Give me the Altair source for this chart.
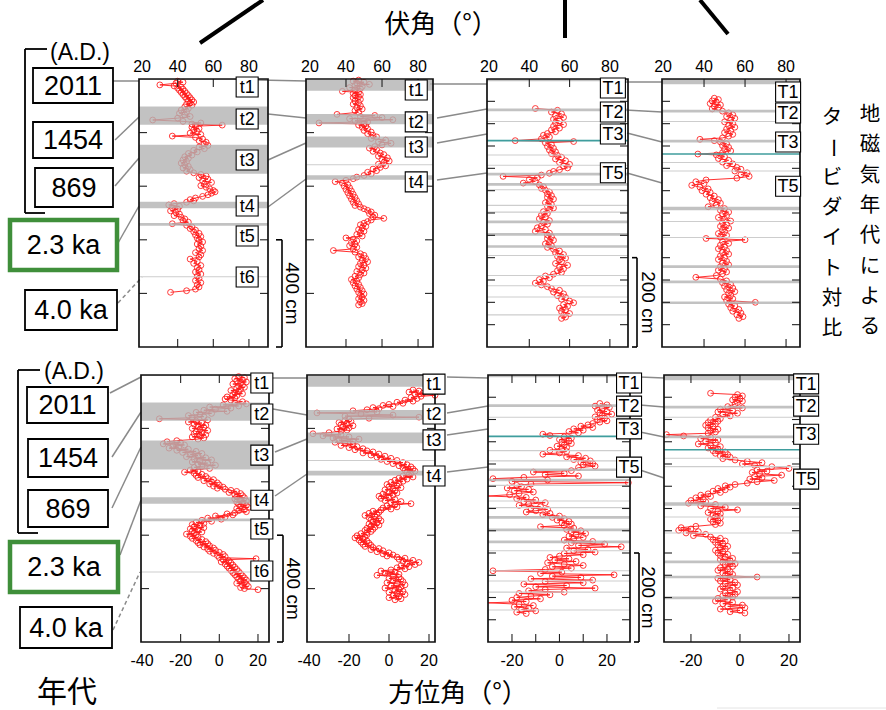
import altair as alt
import pandas as pd

FONT = "Liberation Sans"
JP = "Noto Sans CJK JP"
RED = "#ff1a1a"

# ---------------- measured series: (depth cm, degrees) ----------------
A_INC = [(8,40),(12,43),(16,39),(22,30),(26,38),(30,42),(34,40),(38,43),(42,41),(46,44),(50,42),(54,45),(58,43),(62,46),(66,44),(70,47),(74,45),(78,48),(82,46),(86,49),(90,47),(94,45),(98,48),
 (104,44),(110,46),(116,42),(122,45),(128,41),(134,44),(140,47),(146,40),(153,26),(158,43),(164,53),(168,48),
 (172,65),(176,50),(180,48),(185,52),(190,49),(196,51),(202,47),(207,53),(213,37),(218,50),(224,54),(230,52),(236,56),(242,55),
 (248,57),(254,52),(260,55),(266,49),(272,51),(278,46),(284,48),(290,44),(296,46),(302,43),(308,45),(314,42),(320,44),(326,46),(332,43),(338,47),(344,45),(350,49),
 (356,53),(362,56),(368,52),(374,57),(380,54),(386,59),(392,55),(398,53),(404,56),(410,58),(416,60),(421,61),(426,59),(432,57),(438,54),(444,50),(450,47),(455,49),
 (460,45),(465,38),(470,35),(475,41),(480,37),(486,40),(492,36),(498,39),(504,41),(510,38),(516,42),(522,44),(528,43),(534,46),
 (540,37),(546,45),(552,48),(558,47),(564,50),(570,49),(576,52),(582,50),(588,53),(594,51),(600,52),(608,54),(616,51),(624,53),(632,52),(640,54),(648,50),(656,53),(664,52),(672,47),(680,51),(688,49),(696,53),(704,51),(712,52),(720,50),(728,53),(736,51),(744,52),(752,50),(760,53),(768,51),(776,52),(784,50),(790,45),(796,36)]

B_INC = [(4,47),(8,44),(12,50),(16,46),(20,53),(24,45),(28,49),(32,42),(36,48),(40,45),
 (46,38),(50,47),(54,44),(58,48),(62,45),(66,47),(70,44),(76,48),(82,45),(88,47),(94,44),(100,48),(106,46),(112,49),(118,45),(124,47),
 (132,35),(136,56),(140,48),(144,60),(148,42),(152,66),(156,45),(160,52),(164,25),(168,50),
 (172,47),(176,51),(180,49),(186,52),(192,50),(198,54),(204,52),(210,55),
 (216,57),(222,54),(228,62),(234,58),(240,65),(246,60),(252,56),
 (258,53),(264,57),(270,55),(276,59),(282,61),(288,58),(294,63),(300,60),(306,64),(312,61),(318,58),(324,62),(330,59),(336,55),(342,57),(348,52),(354,54),
 (360,50),(366,46),(372,44),(378,40),(383,34),(388,38),(394,41),(400,39),(406,42),(412,40),(418,43),(424,41),(430,44),(436,42),(442,45),(448,43),(454,46),(460,44),(466,47),(472,45),(478,48),(484,50),(490,52),(496,54),(502,53),(508,56),(514,55),(520,61),(526,54),(532,52),
 (538,50),(544,48),(550,51),(556,49),(562,47),(568,50),(574,48),(580,46),(586,49),(593,40),(598,44),(604,46),(610,43),(616,45),(622,42),(628,46),(634,44),(640,33),(646,45),
 (652,48),(658,50),(664,47),(670,51),(676,49),(682,52),(688,48),(694,50),(700,47),(706,51),(712,49),(718,46),(724,50),(730,48),
 (736,45),(742,47),(748,43),(754,46),(760,44),(766,47),(772,45),(778,48),(784,46),(790,49),(796,47),(802,50),(808,48),(814,49),(820,47),(826,50),(832,48),(838,49),(843,47)]

C_INC = [(66,43),(70,54),(74,51),(78,56),(82,53),(86,57),(90,52),(94,55),(98,53),(102,57),(106,52),(110,55),(114,51),(118,53),(122,49),(126,47),(130,50),(134,46),(138,33),(140,62),(143,48),(147,51),(151,49),(155,52),(159,50),(163,53),(167,51),(171,54),(175,56),(179,53),(183,58),(187,55),(191,60),(195,57),(199,59),(203,55),(207,52),(211,50),(215,46),
 (218,27),(221,44),(225,40),(229,43),(233,37),(237,45),(241,47),(245,46),(249,48),(253,50),(257,49),(261,51),(265,49),(269,52),(273,50),(277,48),(281,51),(285,49),(289,52),(293,50),(297,47),(301,49),(305,46),(309,48),(313,45),(317,50),(321,47),(325,49),(329,46),(333,44),(337,48),(341,43),(345,50),(349,49),(353,51),(357,49),(361,52),(365,50),(369,48),(373,51),(377,49),(381,52),(385,55),(389,53),(393,57),(397,54),(401,58),(405,55),(409,56),(413,53),(417,59),(421,55),(425,57),(429,54),(433,56),(437,52),(441,48),(445,50),(449,45),(453,47),(457,43),(461,46),(465,49),(469,51),(473,55),(477,52),(481,57),(485,54),(489,58),(493,56),(497,60),(501,62),(505,57),(509,59),(513,55),(517,58),(521,56),(525,60),(529,57),(533,58),(536,56)]

D_INC = [(43,45),(46,47),(49,44),(52,46),(55,43),(58,48),(61,45),(64,47),(67,44),(72,49),(76,52),(80,54),(84,51),(88,55),(92,53),(96,50),(100,54),(104,52),(108,55),(112,51),(116,53),(120,50),(124,54),(128,52),(132,49),(135,38),(138,45),(141,48),(145,51),(149,49),(153,52),(157,50),(161,53),(165,49),(168,37),(170,46),(174,50),(178,47),(182,52),(186,49),(190,54),(194,51),(198,56),(202,58),(206,55),(210,61),(214,58),(218,62),(222,56),
 (226,41),(230,36),(234,40),(238,34),(242,38),(246,42),(250,39),(254,43),(258,41),(262,45),(266,43),(270,47),(274,44),(278,48),(282,46),
 (286,42),(290,50),(294,48),(298,52),(302,49),(306,51),(310,47),(314,50),(318,53),(322,49),(326,51),(330,48),(334,52),(338,49),(342,50),(346,47),(350,51),(354,48),(357,41),(360,60),(364,49),(368,52),(372,48),(376,50),(380,47),(384,51),(388,49),(392,52),(396,48),(400,50),(404,47),(408,51),(412,49),(416,52),(420,48),(424,50),(428,47),(432,51),(436,49),(440,46),(444,36),(448,48),(452,51),(456,49),(460,53),(464,50),(468,54),(472,51),(476,55),(480,52),(484,53),(488,50),(492,54),(496,51),(500,65),(504,52),(508,55),(512,53),(516,57),(520,54),(524,58),(528,56),(532,59),(536,57)]

A_DEC = [(6,10),(10,13),(14,8),(18,12),(22,9),(26,14),(30,11),(34,7),(38,12),(42,10),(46,13),(50,9),(54,11),(58,6),(62,10),(66,8),(70,12),(74,7),(78,9),(82,4),(86,8),(90,3),(94,6),
 (100,12),(104,8),(108,14),(112,2),(116,10),(120,-5),(124,6),(128,-2),(132,-8),(136,4),(140,-12),(144,-4),(148,-10),(152,-16),(156,-8),(160,-14),(164,-31),(168,-6),
 (172,-12),(176,-16),(180,-9),(184,-13),(188,-7),(192,-11),(196,-8),(200,-14),(204,-10),(208,-6),(212,-12),(216,-9),(220,-13),(224,-7),(228,-10),(232,-14),(236,-8),(240,-11),
 (246,-22),(250,-27),(254,-20),(258,-29),(262,-18),(266,-24),(270,-21),(274,-26),(278,-16),(282,-22),(286,-12),(290,-19),(294,-9),(298,-15),(302,-11),(306,-17),(310,-7),(314,-13),(318,-4),(322,-10),(326,-14),(330,-6),(334,-11),(338,-2),(342,-9),(346,-13),(350,-5),
 (356,-15),(360,-11),(364,-18),(368,-13),(372,-9),(376,-12),(380,-7),(384,-11),(388,-6),(392,-3),(396,-8),(400,-4),(404,-1),(408,-5),(412,0),(416,-3),(420,2),(424,-1),(428,3),
 (432,6),(436,9),(440,5),(444,11),(448,8),(452,12),(456,9),(460,13),(464,8),(468,11),(472,14),(476,9),(480,12),
 (484,10),(488,14),(492,11),(496,15),(500,9),(504,13),(508,10),(512,14),(516,8),
 (520,4),(524,7),(528,-2),(532,3),(536,-6),(540,1),(544,-9),(548,-4),(552,-12),(556,-8),
 (560,-14),(564,-10),(568,-13),(572,-8),(576,-15),(580,-11),(584,-14),(588,-9),(592,-13),(596,-17),(600,-12),(604,-15),
 (608,-11),(612,-14),(616,-9),(620,-12),(624,-7),(628,-11),(632,-6),(636,-10),(640,-5),(644,-8),(648,-3),(652,-6),(656,-2),(660,-5),(664,0),(668,-3),(672,2),(676,-1),
 (680,3),(684,0),(688,19),(692,2),(696,5),(700,1),(704,6),(708,3),(712,7),(716,4),(720,8),(724,5),(728,9),
 (732,6),(736,10),(740,7),(744,11),(748,8),(752,12),(756,9),(760,13),(764,10),(768,14),(772,11),(776,13),(780,9),(784,14),(788,12),(792,15),(796,11),(800,13),(804,20)]

B_DEC = [(56,12),(60,15),(64,10),(68,17),(72,13),(76,23),(80,16),(84,11),(88,14),
 (94,8),(98,12),(102,4),(106,7),(110,0),(114,-3),(118,2),(122,-8),(126,-5),(130,-11),
 (134,-18),(138,-6),(142,-36),(146,-14),(150,2),(154,-22),(158,15),(162,-10),(166,-20),
 (170,-22),(174,-19),(178,-25),(182,-21),(186,-24),(190,-18),(194,-23),(198,-20),(202,-26),(206,-21),(210,-24),
 (216,-30),(220,-38),(224,-24),(228,-33),(232,-20),(236,-28),(240,-15),(244,-25),(248,-18),(252,-27),
 (256,-22),(260,-18),(264,-24),(268,-16),(272,-20),(276,-13),(280,-17),(284,-11),
 (288,-8),(292,-13),(296,-5),(300,-9),(304,-2),(308,-6),(312,1),(316,-4),(320,4),(324,-1),(328,7),(332,2),(336,9),(340,5),
 (344,11),(348,7),(352,12),(356,8),(360,13),(364,9),(368,11),
 (374,10),(378,7),(382,12),(386,5),(390,9),(394,3),(398,7),(402,1),(406,5),(410,-1),(414,4),(418,0),(422,6),(426,2),(430,-2),(434,3),(438,0),(442,4),
 (446,-3),(450,2),(454,-5),(458,0),(462,-4),(466,3),(470,-2),(474,6),(478,1),(482,11),(486,3),(490,-1),(494,4),(498,-3),(502,1),(506,-4),
 (510,-8),(514,-5),(518,-10),(522,-6),(526,-12),(530,-7),(534,-10),(538,-5),(542,-9),(546,-4),(550,-8),(554,-6),(558,-10),(562,-5),(566,-9),(570,-7),(574,-11),(578,-8),(582,-12),(586,-9),(590,-11),
 (594,-14),(598,-11),(602,-16),(606,-12),(610,-17),(614,-13),(618,-15),(622,-11),(626,-14),(630,-10),(634,-13),(638,-9),(642,-12),
 (646,-8),(650,-5),(654,-9),(658,-3),(662,-6),(666,0),(670,-3),(674,2),(678,-1),
 (682,4),(686,8),(690,5),(694,12),(698,7),(702,15),(706,9),(710,13),(714,6),(718,10),(722,4),(726,8),
 (730,1),(734,-4),(738,3),(742,-2),(746,5),(750,-6),(754,2),
 (758,5),(762,0),(766,6),(770,2),(774,7),(778,-1),(782,4),(786,8),(790,1),(794,6),(798,-2),(802,5),(806,3),(810,7),(814,0),(818,4),(822,8),(826,2),(830,5),(834,0),(838,6),(842,3)]

C_DEC = [(64,17),(67,20),(70,15),(73,21),(76,18),(79,16),(82,20),(85,17),(88,22),(91,18),(94,15),(97,19),(100,16),(103,20),(106,17),(109,14),
 (112,12),(115,9),(118,14),(121,6),(124,10),(127,4),(130,8),(133,-7),(136,-4),
 (139,2),(142,5),(145,0),(148,4),(151,1),(154,5),(157,2),(160,-1),(163,3),(166,1),(169,-4),(172,3),(175,0),
 (178,-7),(181,8),(184,3),(187,11),(190,6),(193,13),(196,9),(199,14),(202,10),(205,15),
 (208,8),(215,5),(218,-11),(221,2),(224,-6),(227,8),
 (230,-15),(233,-28),(236,-5),(239,-20),(242,29),(245,-12),(248,-18),
 (251,-16),(254,-22),(257,-13),(260,-19),(263,-11),(266,-17),(269,-21),(272,-40),(275,-14),
 (278,-18),(281,-10),(284,-15),(287,-6),(290,-13),(293,-17),(296,-8),(299,-12),(302,-5),(305,-10),(308,-14),(311,-4),
 (314,-7),(317,0),(320,-3),(323,2),(326,-1),(329,4),(332,1),(335,5),(338,2),
 (341,-8),(344,6),(347,3),(350,9),(353,5),(356,11),(359,7),(362,4),(365,10),(368,6),
 (371,2),(374,14),(377,5),(380,19),(383,8),(386,26),(389,3),(392,12),(395,6),(398,15),(401,2),(404,10),(407,0),
 (410,-4),(413,4),(416,-2),(419,7),(422,-5),(425,2),(428,10),(431,-3),(434,5),(437,-6),
 (440,-28),(443,1),(446,-8),(449,23),(452,-3),(455,9),(458,-12),(461,14),(464,-6),(467,10),
 (470,-15),(473,3),(476,-10),(479,15),(482,-6),(485,-13),(488,2),(491,-17),(494,-4),(497,-12),(500,-18),(503,-8),
 (506,-20),(509,-14),(512,-40),(515,-17),(518,-11),(521,-19),(524,-13),(527,-16),(530,-10),(533,-18),(536,-14)]

D_DEC = [(41,-12),(44,-1),(47,1),(50,-2),(53,0),(56,-3),(59,1),(62,-1),(65,-2),
 (71,-5),(74,1),(77,-8),(80,-3),(83,-9),(86,-1),(89,-7),(92,-4),
 (95,-10),(98,-8),(101,-12),(104,-9),(107,-13),(110,-10),(113,-14),(116,-11),(119,-13),(122,-9),(125,-12),(128,-10),(131,-13),
 (134,-30),(137,-23),(140,-12),(143,-16),
 (146,-9),(149,-14),(152,-10),(155,-17),(158,-12),(161,-8),(164,-13),(167,-9),(170,-11),(173,-6),(176,-10),(179,-5),(182,-8),(185,-4),(188,-7),
 (191,-2),(194,3),(197,9),(200,1),(203,6),(206,13),
 (210,20),(213,7),(216,11),(219,5),(222,8),(225,17),(228,6),(231,9),(234,4),(237,14),(240,7),(243,3),
 (246,-2),(249,-6),(252,-4),(255,-9),(258,-6),(261,-11),(264,-8),
 (267,-13),(270,-16),(273,-12),(276,-18),(279,-15),(282,-20),(285,-14),
 (288,-21),(291,-10),(294,-16),(297,-6),(300,-12),(303,-1),(306,-9),(309,-13),(312,-8),(315,-11),
 (318,-10),(321,-8),(324,-12),(327,-9),(330,-11),(333,-8),(336,-10),
 (340,-18),(343,-24),(346,-20),(349,-25),(352,-17),(355,-22),(358,-14),(361,-19),
 (364,-12),(367,-8),(370,-11),(373,-6),(376,-10),(379,-7),(382,-9),(385,-5),(388,-8),(391,-6),(394,-10),(397,-7),(400,-9),(403,-5),(406,-8),
 (409,-6),(412,-3),(415,-8),(418,-4),(421,-7),(424,-2),(427,-6),(430,-3),(433,-8),(436,-5),(439,-9),(442,-4),(445,-7),
 (448,-3),(451,-6),(454,7),(457,-9),(460,-4),(463,-8),(466,-2),(469,-6),(472,-1),(475,-7),(478,-3),(481,-8),(484,-4),(487,-1),(490,-6),(493,-2),(496,-7),(499,-3),(502,-9),(505,-5),
 (508,-10),(511,-3),(514,-7),(517,1),(520,-5),(523,2),(526,-8),(529,0),(532,-4),(535,2)]

# ---------------- turbidite intervals / horizons (depth, cm) ----------------
A_BANDS = [(0, 3), (103, 171), (245, 354), (458, 482), (537, 548)]
A_LINES = [738]
B_BANDS = [(3, 44), (131, 169), (215, 256), (359, 376)]
B_LINES = [320]
C_BANDS = [(0, 5), (66, 72), (210, 216), (233, 239), (317, 323), (345, 351), (372, 378)]
C_LINES = [95, 170, 193, 248, 283, 298, 395, 440, 463, 488, 528]
C_TEAL = [138]
D_BANDS = [(0, 12), (69, 75), (136, 142), (286, 294), (417, 423), (451, 457), (498, 504)]
D_LINES = [95, 187, 206, 319, 355]
D_TEAL = [168]

# ---------------- event labels ----------------
A_LABELS = ["t1", "t2", "t3", "t4", "t5", "t6"]
A_INC_LABEL_DEPTH = [30, 149, 302, 474, 586, 739]
A_DEC_LABEL_DEPTH = [30, 146, 300, 469, 577, 734]
B_LABELS = ["t1", "t2", "t3", "t4"]
B_INC_LABEL_DEPTH = [41, 160, 254, 384]
B_DEC_LABEL_DEPTH = [34, 146, 243, 378]
CD_LABELS = ["T1", "T2", "T3", "T5"]
C_INC_LABEL_DEPTH = [20, 74, 123, 210]
C_DEC_LABEL_DEPTH = [18, 70, 121, 207]
D_INC_LABEL_DEPTH = [29, 76, 141, 240]
D_DEC_LABEL_DEPTH = [20, 70, 133, 234]

AGE_LABELS = ["2011", "1454", "869", "2.3 ka", "4.0 ka"]
INC_TICKS = [20, 40, 60, 80]
DEC_TICKS = [-40, -20, 0, 20]
DEC_TICKS_SHORT = [-20, 0, 20]
DEPTH_TICKS_LONG = [200, 400, 600, 800]
DEPTH_TICKS_SHORT = [50, 100, 150, 200, 250, 300, 350, 400, 450, 500, 550]

# ---------------- layout (pixels) ----------------
W, H = 886, 710
TOP_Y, BOT_Y = (79, 347), (375, 642)
TOP_LABEL_Y, BOT_LABEL_Y = 67, 661
BOX_T = "M-1.1,-1L1.1,-1L1.1,1L-1.1,1Z"
BOX_T_WIDE = "M-1.25,-1L1.25,-1L1.25,1L-1.25,1Z"


def cfg(series, bands, lines, teal, labels, ldepth, lv, xdom, xrng, ydom, yrng,
        axvals, xticks, yticks, labely, box, clamp=False, bar=None):
    return dict(series=series, bands=bands, lines=lines, teal=teal, labels=labels,
                ldepth=ldepth, lv=lv, xdom=xdom, xrng=xrng, ydom=ydom, yrng=yrng,
                axvals=axvals, xticks=xticks, yticks=yticks, labely=labely, box=box,
                clamp=clamp, bar=bar)


PANELS = [
    cfg(A_INC, A_BANDS, A_LINES, [], A_LABELS, A_INC_LABEL_DEPTH, 79, [18.3, 90.7], [139, 268], [0, 1000], TOP_Y,
        INC_TICKS, [40, 60, 80], DEPTH_TICKS_LONG, TOP_LABEL_Y, BOX_T, bar=(282, 276, 292, 600, 1000, "400 cm")),
    cfg(B_INC, B_BANDS, B_LINES, [], B_LABELS, B_INC_LABEL_DEPTH, 79, [17.8, 88.3], [306, 433], [0, 1000], TOP_Y,
        INC_TICKS, [40, 60, 80], DEPTH_TICKS_LONG, TOP_LABEL_Y, BOX_T),
    cfg(C_INC, C_BANDS, C_LINES, C_TEAL, CD_LABELS, C_INC_LABEL_DEPTH, 81.5, [19, 89], [487, 628], [0, 600], TOP_Y,
        INC_TICKS, [40, 60, 80], DEPTH_TICKS_SHORT, TOP_LABEL_Y, BOX_T_WIDE, bar=(637, 632, 648, 400, 600, "200 cm")),
    cfg(D_INC, D_BANDS, D_LINES, D_TEAL, CD_LABELS, D_INC_LABEL_DEPTH, 81, [19.5, 86.8], [662, 800], [0, 600], TOP_Y,
        INC_TICKS, [40, 60, 80], DEPTH_TICKS_SHORT, TOP_LABEL_Y, BOX_T_WIDE),
    cfg(A_DEC, A_BANDS, A_LINES, [], A_LABELS, A_DEC_LABEL_DEPTH, 22, [-40.5, 25.7], [141, 269], [0, 1000], BOT_Y,
        DEC_TICKS, [-20, 0, 20], DEPTH_TICKS_LONG, BOT_LABEL_Y, BOX_T, bar=(283, 277, 293, 600, 1000, "400 cm")),
    cfg(B_DEC, B_BANDS, B_LINES, [], B_LABELS, B_DEC_LABEL_DEPTH, 22.5, [-41, 23], [307, 435], [0, 1000], BOT_Y,
        DEC_TICKS, [-20, 0, 20], DEPTH_TICKS_LONG, BOT_LABEL_Y, BOX_T),
    cfg(C_DEC, C_BANDS, C_LINES, C_TEAL, CD_LABELS, C_DEC_LABEL_DEPTH, 29.3, [-30.1, 29.7], [488, 630], [0, 600], BOT_Y,
        DEC_TICKS_SHORT, [-20, -10, 0, 10, 20], DEPTH_TICKS_SHORT, BOT_LABEL_Y, BOX_T_WIDE, clamp=True,
        bar=(639, 634, 648, 400, 600, "200 cm")),
    cfg(D_DEC, D_BANDS, D_LINES, D_TEAL, CD_LABELS, D_DEC_LABEL_DEPTH, 27, [-31, 24.5], [664, 800], [0, 600], BOT_Y,
        DEC_TICKS_SHORT, [-20, 0, 20], DEPTH_TICKS_SHORT, BOT_LABEL_Y, BOX_T_WIDE),
]


def fmt(v):
    return ("-" + str(-v)) if v < 0 else str(v)


def panel(p):
    xd0, xd1 = p["xdom"]
    yd0, yd1 = p["ydom"]
    xr0, xr1 = p["xrng"]
    yr0, yr1 = p["yrng"]
    xs = alt.Scale(domain=p["xdom"], range=p["xrng"], nice=False, zero=False, clamp=p["clamp"])
    ys = alt.Scale(domain=p["ydom"], range=p["yrng"], nice=False, zero=False)

    def X():
        return alt.X("v:Q", scale=xs, axis=None)

    def Y(f="d"):
        return alt.Y(f + ":Q", scale=ys, axis=None)

    df = pd.DataFrame(p["series"], columns=["d", "v"])
    layers = []
    layers.append(alt.Chart(df).mark_line(color=RED, strokeWidth=0.9).encode(
        x=X(), y=Y(), order="d:Q"))
    layers.append(alt.Chart(df).transform_filter(
        f"datum.v >= {xd0} && datum.v <= {xd1}").mark_point(
        shape="circle", filled=False, color=RED, size=34, strokeWidth=0.9, opacity=0.95).encode(x=X(), y=Y()))

    bands = pd.DataFrame([dict(d=a, d2=b, v=xd0, v2=xd1) for a, b in p["bands"]])
    layers.append(alt.Chart(bands).mark_rect(color="#b3b3b3", opacity=0.8).encode(
        x=X(), x2="v2:Q", y=Y(), y2="d2:Q"))
    if p["lines"]:
        ln = pd.DataFrame([dict(d=a, v=xd0, v2=xd1) for a in p["lines"]])
        layers.append(alt.Chart(ln).mark_rule(color="#cdcdcd", strokeWidth=1.1).encode(
            x=X(), x2="v2:Q", y=Y()))
    if p["teal"]:
        tl = pd.DataFrame([dict(d=a, v=xd0, v2=xd1) for a in p["teal"]])
        layers.append(alt.Chart(tl).mark_rule(color="#3f9d9d", strokeWidth=1.6).encode(
            x=X(), x2="v2:Q", y=Y()))

    # inside ticks (8 px long)
    ux = (xd1 - xd0) / (xr1 - xr0)
    uy = (yd1 - yd0) / (yr1 - yr0)
    L = 8
    rows = []
    for t in p["xticks"]:
        rows.append(dict(v=t, v2=t, d=yd0, d2=yd0 + L * uy))
        rows.append(dict(v=t, v2=t, d=yd1 - L * uy, d2=yd1))
    for t in p["yticks"]:
        rows.append(dict(v=xd0, v2=xd0 + L * ux, d=t, d2=t))
        rows.append(dict(v=xd1 - L * ux, v2=xd1, d=t, d2=t))
    layers.append(alt.Chart(pd.DataFrame(rows)).mark_rule(color="#222222", strokeWidth=1.1).encode(
        x=X(), x2="v2:Q", y=Y(), y2="d2:Q"))

    frame = pd.DataFrame([dict(v=xd0, v2=xd1, d=yd0, d2=yd1)])
    layers.append(alt.Chart(frame).mark_rect(fillOpacity=0, stroke="#111111", strokeWidth=1.7).encode(
        x=X(), x2="v2:Q", y=Y(), y2="d2:Q"))

    # axis tick labels (value positions through the panel's x scale)
    tl = pd.DataFrame(dict(v=p["axvals"], lab=[fmt(v) for v in p["axvals"]]))
    layers.append(alt.Chart(tl).mark_text(font=FONT, fontSize=16, color="black",
                                          align="center", baseline="middle").encode(
        x=X(), y=alt.value(p["labely"]), text="lab:N"))

    # scale bar
    if p["bar"]:
        bx, bx0, tx, b0, b1, txt = p["bar"]
        bdf = pd.DataFrame([dict(d=b0, d2=b1, lab=txt, dm=(b0 + b1) / 2)])
        layers.append(alt.Chart(bdf).mark_rule(color="black", strokeWidth=1.6).encode(
            x=alt.value(bx), y=Y(), y2="d2:Q"))
        tdf = pd.DataFrame([dict(d=b0), dict(d=b1)])
        layers.append(alt.Chart(tdf).mark_rule(color="black", strokeWidth=1.6).encode(
            x=alt.value(bx0), x2=alt.value(bx), y=Y()))
        layers.append(alt.Chart(bdf).mark_text(angle=90, font=FONT, fontSize=19, color="black",
                                               align="center", baseline="middle").encode(
            x=alt.value(tx), y=Y("dm"), text="lab:N"))

    lab = pd.DataFrame(dict(lab=p["labels"], d=p["ldepth"], v=[p["lv"]] * len(p["labels"])))
    layers.append(alt.Chart(lab).mark_point(shape=p["box"], size=400, fill="white", stroke="black",
                                            strokeWidth=1.1, opacity=1, fillOpacity=1).encode(x=X(), y=Y()))
    layers.append(alt.Chart(lab).mark_text(font=FONT, fontSize=18, color="black",
                                           align="center", baseline="middle", dy=1).encode(
        x=X(), y=Y(), text="lab:N"))
    return alt.layer(*layers)


# ---------------- decorations (pixel layout) ----------------
PX = dict(scale=None, axis=None)

CONNECTORS = pd.DataFrame([
    (113, 81, 139, 81), (115, 140, 139, 117), (115, 186, 139, 158), (118, 243, 139, 206),
    (258, 80, 306, 81), (268, 114, 306, 118), (268, 160, 306, 143), (268, 207, 306, 179),
    (430, 84, 487, 84), (437, 118, 487, 109), (437, 143, 487, 134), (437, 180, 487, 173),
    (625, 82, 662, 82), (625, 110, 662, 112), (627, 133, 662, 142), (627, 173, 662, 183),
    (110, 393, 141, 377), (112, 457, 141, 412), (112, 508, 141, 447), (120, 555, 141, 500),
    (273, 378, 307, 378), (273, 409, 307, 415), (275, 452, 307, 439), (275, 496, 307, 474),
    (447, 377, 488, 378), (447, 413, 488, 406), (447, 435, 488, 429), (447, 472, 488, 467),
    (640, 377, 664, 378), (640, 405, 664, 407), (640, 432, 664, 437), (640, 470, 664, 478),
], columns=["x", "y", "x2", "y2"])
DASHED = pd.DataFrame([(118, 303, 142, 277), (113, 630, 140, 572)], columns=["x", "y", "x2", "y2"])
BLACK_LINES = pd.DataFrame([
    (200, 43, 263, 0), (565, 0, 565, 38), (700, 0, 728, 34),
    (25, 49, 47, 49), (25, 49, 25, 213), (25, 213, 45, 213),
    (18, 370, 40, 370), (18, 370, 18, 533), (18, 533, 38, 533),
], columns=["x", "y", "x2", "y2"])
FAINT = pd.DataFrame([(717, 708, 886, 708)], columns=["x", "y", "x2", "y2"])

AGE_BOXES = pd.DataFrame([
    (33, 68, 113, 103), (33, 122, 113, 158), (35, 168, 113, 207), (10, 220, 117, 270), (25, 290, 117, 330),
    (27, 387, 108, 423), (28, 439, 108, 477), (28, 490, 108, 527), (10, 542, 118, 592), (20, 607, 112, 648),
], columns=["x", "y", "x2", "y2"])
AGE_BOXES["lab"] = AGE_LABELS * 2
AGE_BOXES["green"] = [l == "2.3 ka" for l in AGE_BOXES["lab"]]
AGE_BOXES["cx"] = (AGE_BOXES.x + AGE_BOXES.x2) / 2
AGE_BOXES["cy"] = (AGE_BOXES.y + AGE_BOXES.y2) / 2

LATIN_TEXT = pd.DataFrame([("(A.D.)", 80, 53, 23), ("(A.D.)", 74, 372, 23)], columns=["lab", "x", "y", "fs"])
JP_TEXT = pd.DataFrame([("伏角（°）", 441, 25, 26, 0), ("方位角（°）", 458, 694, 26, 0), ("年代", 67, 693, 30, 0)],
                       columns=["lab", "x", "y", "fs", "ang"])

# right-hand caption, written vertically (one character per glyph position)
COL1 = "地磁気年代による"
COL2 = "タービダイト対比"
VFS = 20.5
vt = []
for i, ch in enumerate(COL1):
    vt.append((ch, 870, 115 + i * 30.3, VFS, 0))
for i, ch in enumerate(COL2):
    vt.append((ch, 832, 118 + i * 30.1, VFS, 90 if ch == "ー" else 0))
VERT_TEXT = pd.DataFrame(vt, columns=["lab", "x", "y", "fs", "ang"])


def seg(df, **kw):
    return alt.Chart(df).mark_rule(**kw).encode(
        x=alt.X("x:Q", **PX), y=alt.Y("y:Q", **PX), x2="x2:Q", y2="y2:Q")


deco_under = [
    seg(FAINT, color="#e4e4e4", strokeWidth=1),
    seg(CONNECTORS, color="#8a8a8a", strokeWidth=1.5),
    seg(DASHED, color="#8a8a8a", strokeWidth=1.5, strokeDash=[4, 3]),
    seg(BLACK_LINES.iloc[:3], color="black", strokeWidth=4),
    seg(BLACK_LINES.iloc[3:], color="black", strokeWidth=1.8),
]

boxes_plain = alt.Chart(AGE_BOXES[~AGE_BOXES.green]).mark_rect(
    fill="white", stroke="black", strokeWidth=1.8).encode(
    x=alt.X("x:Q", **PX), y=alt.Y("y:Q", **PX), x2="x2:Q", y2="y2:Q")
boxes_green = alt.Chart(AGE_BOXES[AGE_BOXES.green]).mark_rect(
    fill="white", stroke="#3f8f3a", strokeWidth=4.5).encode(
    x=alt.X("x:Q", **PX), y=alt.Y("y:Q", **PX), x2="x2:Q", y2="y2:Q")
box_text = alt.Chart(AGE_BOXES).mark_text(font=FONT, fontSize=27, color="black",
                                          align="center", baseline="middle", dy=1).encode(
    x=alt.X("cx:Q", **PX), y=alt.Y("cy:Q", **PX), text="lab:N")
latin = alt.Chart(LATIN_TEXT).mark_text(font=FONT, color="black", align="center", baseline="middle").encode(
    x=alt.X("x:Q", **PX), y=alt.Y("y:Q", **PX), text="lab:N", size=alt.Size("fs:Q", scale=None, legend=None))
jp = alt.Chart(pd.concat([JP_TEXT, VERT_TEXT])).mark_text(font=JP, color="black", align="center",
                                                         baseline="middle").encode(
    x=alt.X("x:Q", **PX), y=alt.Y("y:Q", **PX), text="lab:N",
    size=alt.Size("fs:Q", scale=None, legend=None), angle=alt.Angle("ang:Q", scale=None, legend=None))

chart = alt.layer(
    *deco_under,
    *[panel(p) for p in PANELS],
    boxes_plain, boxes_green, box_text, latin, jp,
).resolve_scale(x="independent", y="independent").properties(
    width=W, height=H, autosize=alt.AutoSizeParams(type="none"), padding=0,
    background="white",
).configure_view(stroke=None)

chart.save("out.html", embed_options={"renderer": "svg", "actions": False})
